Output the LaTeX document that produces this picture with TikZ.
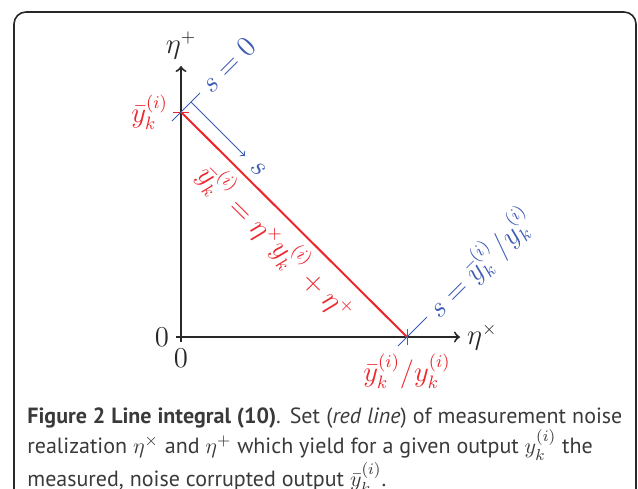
\documentclass[tikz,border=0pt]{standalone}
\usepackage{amsmath,amssymb}
\usepackage{fontspec}
\usepackage{tikz}
\usetikzlibrary{arrows, positioning, calc}
\newfontfamily\capfont{PT Sans}
\definecolor{setred}{RGB}{237, 38, 45}
\definecolor{sblue}{RGB}{62, 92, 180}
\definecolor{border}{RGB}{40, 40, 40}
\tikzstyle{axis} = [line width=1pt, ->, >=to, color=border]
\tikzstyle{setline} = [line width=1pt, color=setred]
\tikzstyle{tick} = [line width=0.5pt, color=setred]
\tikzstyle{sline} = [line width=0.5pt, color=sblue]
\tikzstyle{redlabel} = [text=setred, font=\fontsize{13.5}{16}\selectfont]
\tikzstyle{bluelabel} = [text=sblue, font=\fontsize{13.5}{16}\selectfont]
\tikzstyle{axlabel} = [text=border, font=\fontsize{13.5}{16}\selectfont]

\begin{document}
\begin{tikzpicture}[x=0.5pt, y=-0.5pt]
    \clip (0,0) rectangle (638,488);
    % Frame
    \draw[border, line width=0.8pt, rounded corners=6pt] (14,12) rectangle (636,520);

    % Coordinates
    \coordinate (origin) at (181,337);
    \coordinate (xstart) at (176,337);
    \coordinate (xend) at (460,337);
    \coordinate (ystart) at (181,342);
    \coordinate (yend) at (181,66);
    \coordinate (top) at (181,112);
    \coordinate (right) at (407,337);

    % Axes
    \draw [axis] (xstart) -- (xend);
    \draw [axis] (ystart) -- (yend);
    \node (etax) [axlabel, anchor=west] at (xend) {$\eta^{\times}$};
    \node (etap) [axlabel, anchor=south] at (yend) {$\eta^{+}$};
    \node (zeroy) [axlabel, anchor=east] at (xstart) {$0$};
    \node (zerox) [axlabel, anchor=north] at (ystart) {$0$};

    % Red set line
    \draw [setline] (top) -- node[redlabel, sloped, below, pos=0.5] (eq) {$\bar{y}_k^{(i)} = \eta^{\times} y_k^{(i)} + \eta^{+}$} (right);
    \draw [tick] ($(top)+(-8,0)$) -- ($(top)+(8,0)$);
    \draw [tick] ($(right)+(0,-8)$) -- ($(right)+(0,8)$);
    \node (ybar) [redlabel, anchor=east] at ($(top)+(-6,0)$) {$\bar{y}_k^{(i)}$};
    \node (ratio) [redlabel, anchor=north] at ($(right)+(0,10)$) {$\bar{y}_k^{(i)}/y_k^{(i)}$};

    % Blue path parameter
    \coordinate (s0a) at ($(top)+(-9,9)$);
    \coordinate (s0b) at ($(top)+(19,-19)$);
    \coordinate (sa) at ($(top)+(10,-10)$);
    \coordinate (sb) at ($(top)+(64,44)$);
    \coordinate (s1a) at ($(right)+(-9,9)$);
    \coordinate (s1b) at ($(right)+(20,-20)$);
    \draw [sline] (s0a) -- (s0b);
    \draw [sline, ->] (sa) -- (sb);
    \draw [sline] (s1a) -- (s1b);
    \node (szero) [bluelabel, rotate=45, anchor=west] at (s0b) {$s = 0$};
    \node (slab) [bluelabel, rotate=-45] at ($(sb)+(13,13)$) {$s$};
    \node (sone) [bluelabel, rotate=45, anchor=west] at (s1b) {$s = \bar{y}_k^{(i)}/y_k^{(i)}$};

    % Caption
    \node (caption) [anchor=base west, text width=297.5pt, align=justify, inner sep=0pt, font=\capfont\fontsize{11}{13.25}\selectfont, text=border!80!gray] at (27,423)
      {\textbf{Figure 2 Line integral (10)}. Set (\textit{red line}) of measurement noise realization $\eta^{\times}$ and $\eta^{+}$ which yield for a given output $y_k^{(i)}$ the\newline measured, noise corrupted output $\bar{y}_k^{(i)}$.};
\end{tikzpicture}
\end{document}
